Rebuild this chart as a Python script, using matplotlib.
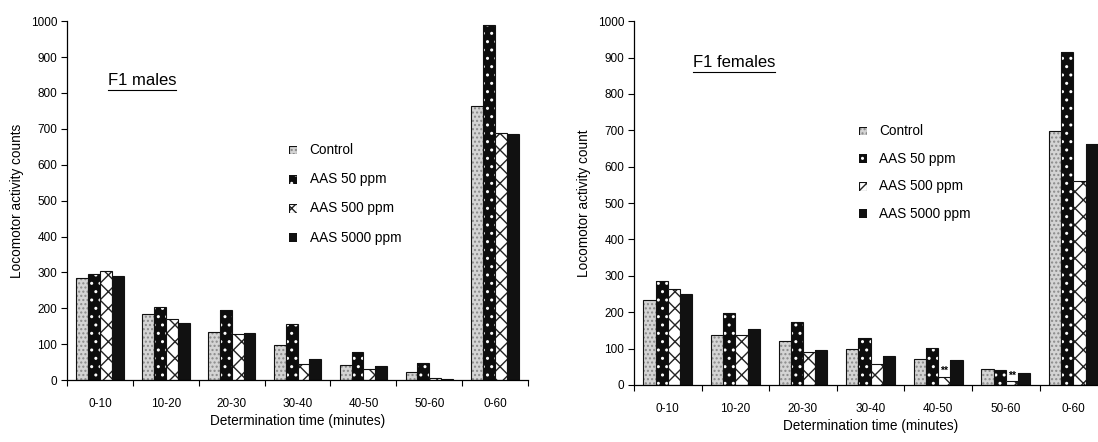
import numpy as np
import matplotlib
matplotlib.use("Agg")
import matplotlib.pyplot as plt
from matplotlib.lines import Line2D

plt.rcParams['font.family'] = ['Liberation Sans', 'DejaVu Sans']

# data
periods = ["0-10", "10-20", "20-30", "30-40", "40-50", "50-60", "0-60"]
groups = ["Control", "AAS 50 ppm", "AAS 500 ppm", "AAS 5000 ppm"]

males_control = [285, 185, 133, 99, 43, 22, 765]
males_50 = [295, 205, 195, 155, 77, 48, 990]
males_500 = [303, 170, 128, 45, 32, 6, 688]
males_5000 = [290, 158, 132, 60, 40, 4, 685]

females_control = [233, 138, 122, 99, 71, 45, 698]
females_50 = [287, 197, 172, 130, 102, 40, 915]
females_500 = [265, 138, 90, 58, 22, 10, 562]
females_5000 = [250, 155, 96, 80, 68, 32, 662]

# bars of the female 500 ppm group marked with **
female_marks = ["40-50", "50-60"]


def draw_bars(ax, x, h, style, w=0.18):
    if style == "control":
        ax.bar(x, h, w, color="#d4d4d4", edgecolor="#8a8a8a", hatch="....", lw=0)
    elif style == "dots":
        ax.bar(x, h, w, color="#0d0d0d", edgecolor="white", hatch="..", lw=0)
    elif style == "cross":
        ax.bar(x, h, w, color="white", edgecolor="#222222", hatch="xx", lw=0)
    else:
        ax.bar(x, h, w, color="#111111", edgecolor="#2a2a2a", hatch="", lw=0)
    ax.bar(x, h, w, color="none", edgecolor="#111111", lw=0.8)


def panel(ax, series, ylabel):
    x = np.arange(len(periods))
    styles = ["control", "dots", "cross", "solid"]
    offs = [-0.27, -0.09, 0.09, 0.27]
    for vals, st, o in zip(series, styles, offs):
        draw_bars(ax, x + o, vals, st)
    ax.set_xlim(-0.5, 6.5)
    ax.set_ylim(0, 1000)
    ax.set_yticks(range(0, 1001, 100))
    ax.set_xticks(x)
    ax.set_xticklabels(periods, fontsize=8.5)
    ax.set_xticks(np.arange(-0.5, 7, 1), minor=True)
    ax.tick_params(axis="x", which="major", length=0, pad=13)
    ax.tick_params(axis="x", which="minor", length=4, width=0.8, direction="out")
    ax.tick_params(axis="y", length=4, width=0.8, labelsize=8.5, pad=3)
    ax.spines["top"].set_visible(False)
    ax.spines["right"].set_visible(False)
    ax.spines["left"].set_linewidth(0.9)
    ax.spines["bottom"].set_linewidth(0.9)
    ax.set_ylabel(ylabel, fontsize=9.8, labelpad=5)
    ax.set_xlabel("Determination time (minutes)", fontsize=9.8, labelpad=3)


def legend(fig, x0, y0, dy):
    styles = ["control", "dots", "cross", "solid"]
    for i, (g, st) in enumerate(zip(groups, styles)):
        y = y0 - i * dy
        lax = fig.add_axes([x0, y - 0.01, 0.0073, 0.02])
        lax.set_xlim(0, 1)
        lax.set_ylim(0, 1)
        draw_bars(lax, 0.5, 1, st, w=1.0)
        lax.axis("off")
        fig.text(x0 + 0.019, y, g, fontsize=9.8, va="center")


def underlined(fig, x, y, s):
    t = fig.text(x, y, s, fontsize=12, va="baseline")
    fig.canvas.draw()
    bb = t.get_window_extent().transformed(fig.transFigure.inverted())
    fig.add_artist(Line2D([bb.x0, bb.x1], [bb.y0 - 0.004, bb.y0 - 0.004],
                          transform=fig.transFigure, color="black", lw=0.8))


fig = plt.figure(figsize=(10.98, 4.42), dpi=100)
ax1 = fig.add_axes([0.061, 0.140, 0.420, 0.812])
ax2 = fig.add_axes([0.5774, 0.129, 0.431, 0.823])

panel(ax1, [males_control, males_50, males_500, males_5000], "Locomotor activity counts")
panel(ax2, [females_control, females_50, females_500, females_5000], "Locomotor activity count")

for p in female_marks:
    i = periods.index(p)
    ax2.text(i + 0.09, females_500[i] + 2, "**", fontsize=7.5, fontweight="bold",
             ha="center", va="bottom")

legend(fig, 0.263, 1 - 150 / 442, 0.066)
legend(fig, 0.782, 1 - 131 / 442, 0.0625)

underlined(fig, 0.098, 1 - 85 / 442, "F1 males")
underlined(fig, 0.631, 1 - 67 / 442, "F1 females")

fig.savefig("out.png", dpi=100)
